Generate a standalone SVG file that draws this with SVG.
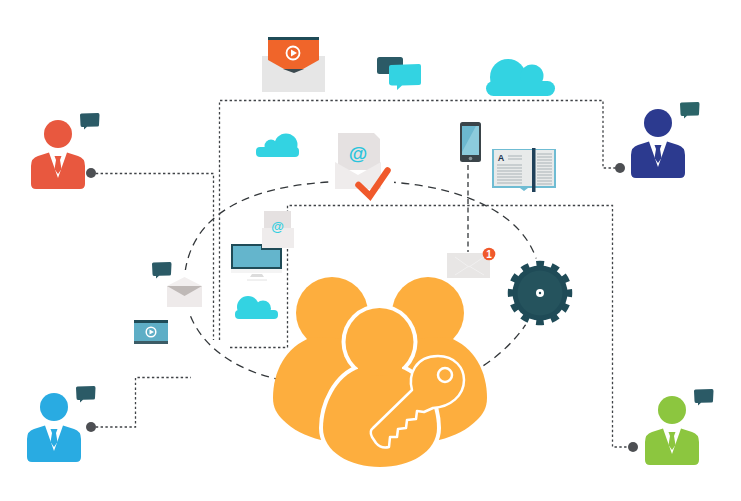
<svg xmlns="http://www.w3.org/2000/svg" width="741" height="501" viewBox="0 0 741 501">
<style>
.dot{fill:#4d4f53}
.conn{fill:none;stroke:#3f4246;stroke-width:1.3;stroke-dasharray:2.4 2.4}
.orbit{fill:none;stroke:#33373a;stroke-width:1.3;stroke-dasharray:8 5.5}
.cyan{fill:#33d3e2}
.org{fill:#fdae3e}
.lbl{font-family:"Liberation Sans",Arial,sans-serif;font-weight:700}
</style>
<defs>
<g id="person">
<circle cx="27" cy="14" r="14"/>
<path d="M7 36 L18 32.500 L27 58 L36 32.500 L47 36 Q54 38 54 46 L54 64 Q54 69 49 69 L5 69 Q0 69 0 64 L0 46 Q0 38 7 36Z"/>
<path d="M23.500 36 h7 l-1.500 4 l1.500 9 l-3.500 5 l-3.500 -5 l1.500 -9Z"/>
</g>
<g id="bubble">
<path d="M1.500 0.500 L18 0 Q19.500 0 19.500 2 L19 12 Q19 13.500 17.500 13.500 L7 13.800 L4 16.500 L4 14 L2 14 Q0.500 14 0.500 12 L0 2 Q0 0.500 1.500 0.500Z"/>
</g>
</defs>
<rect width="741" height="501" fill="#fff"/>

<g id="connectors">
<path class="orbit" d="M282 380C240 372 186 345 184 285C186 210 255 181 361 181C460 181 541 215 540 285C540 315 510 350 478 369"/>
<path class="conn" d="M91 173.500H213.500V340"/>
<path class="conn" d="M219.500 340V100.500H603V168H620"/>
<path class="conn" d="M230 347.500H287.500V205.500H612.500V447H633"/>
<path class="conn" d="M91 427H135.500V377.500H191"/>
<path d="M468 165V252" fill="none" stroke="#33373a" stroke-width="1.300" stroke-dasharray="5 3.500"/>
<circle class="dot" cx="91" cy="173" r="5"/>
<circle class="dot" cx="620" cy="168" r="5"/>
<circle class="dot" cx="91" cy="427" r="5"/>
<circle class="dot" cx="633" cy="447" r="5"/>
</g>

<g id="person-red" fill="#e8583f">
<use href="#person" x="31" y="120"/>
<use href="#bubble" x="80" y="113" fill="#2b5a66"/>
</g>
<g id="person-navy" fill="#2c3a8f">
<use href="#person" x="631" y="109"/>
<use href="#bubble" x="680" y="102" fill="#2b6468"/>
</g>
<g id="person-blue" fill="#29abe2">
<use href="#person" x="27" y="393"/>
<use href="#bubble" x="76" y="386" fill="#2b5a66"/>
</g>
<g id="person-green" fill="#8cc63f">
<use href="#person" x="645" y="396"/>
<use href="#bubble" x="694" y="389" fill="#2b5a66"/>
</g>

<g id="video-mail">
<rect x="262" y="56" width="63" height="36" fill="#e6e6e6"/>
<path d="M283 69H304L294 73Z" fill="#3c4a50"/>
<rect x="268" y="37" width="51" height="3.500" fill="#1f4b57"/>
<path d="M268 40H319V60L303 69H284L268 60Z" fill="#f0652a"/>
<circle cx="293" cy="53" r="6.500" fill="none" stroke="#fff" stroke-width="1.800"/>
<path d="M291 49.500L297 53L291 56.500Z" fill="#fff"/>
</g>

<g id="chat">
<rect x="377" y="57" width="26" height="17" rx="2.500" fill="#2b5a66"/>
<path d="M391 65L419 64Q421 64 421 66L421 83Q421 85 419 85L402 85.500L397 90L397 85.500L392 85.500Q389 85 389 83L389 67Q389 65 391 65Z" class="cyan"/>
</g>

<g id="cloud-large" class="cyan">
<circle cx="508" cy="77" r="18"/>
<circle cx="532" cy="76" r="11.500"/>
<rect x="486" y="81" width="69" height="15" rx="7.500"/>
</g>

<g id="cloud-small" class="cyan">
<circle cx="286" cy="145" r="11.500"/>
<circle cx="271" cy="146" r="6.500"/>
<rect x="256" y="147" width="43" height="10" rx="4"/>
</g>

<g id="mail-check">
<rect x="330" y="176" width="64" height="22" fill="#fff"/>
<path d="M338 133H374L380 139V170H338Z" fill="#e5e1e1"/>
<path d="M335 162L358 175L381 162V189H335Z" fill="#efecec"/>
<text class="lbl" x="358" y="160" font-size="19" text-anchor="middle" fill="#29c4dc">@</text>
<path d="M358.500 185L370 196L387.500 170.500" fill="none" stroke="#f0592b" stroke-width="6.500" stroke-linecap="round"/>
</g>

<g id="phone">
<rect x="460" y="122" width="21" height="40" rx="2.500" fill="#3a4449"/>
<rect x="462" y="126" width="17" height="29" fill="#8ccbdc"/>
<path d="M462 126H476L462 152Z" fill="#6cb8cf"/>
<circle cx="470.500" cy="158.500" r="1.800" fill="#8a9599"/>
</g>

<g id="book">
<path d="M492 149H556V188H528L524 191L520 188H492Z" fill="#6fbcd3"/>
<rect x="494" y="150" width="60" height="36" fill="#e8eaea"/>
<path d="M508 156H522M508 159H522M497 165H522M497 168H522M497 171H522M497 174H522M497 177H522M497 180H522M497 183H522M537 154H552M537 157H552M537 160H552M537 163H552M537 166H552M537 169H552M537 172H552M537 175H552M537 178H552M537 181H552M537 184H552" stroke="#a9b2b6" stroke-width="1"/>
<rect x="532" y="148" width="3.500" height="44" fill="#1f4059"/>
<text class="lbl" x="501" y="161" font-size="9" text-anchor="middle" fill="#1f3550">A</text>
</g>

<g id="mail-at">
<rect x="264" y="211" width="27" height="24" fill="#e5e1e1"/>
<rect x="262" y="228" width="32" height="20" fill="#efecec"/>
<text class="lbl" x="277.500" y="230.500" font-size="13" text-anchor="middle" fill="#33cfe0">@</text>
</g>

<g id="monitor">
<path d="M231 244H262V248H282V269H231Z" fill="#1f4b57"/>
<path d="M233 246H261V250H280V267H233Z" fill="#64b5cc"/>
<path d="M231 269H282V273H231Z" fill="#f4f4f4"/>
<path d="M252 274H262L264 277H250Z" fill="#dcdcdc"/>
<path d="M247 280H267" stroke="#e2e2e2" stroke-width="1"/>
</g>

<g id="cloud-mid" class="cyan">
<circle cx="248" cy="307" r="11"/>
<circle cx="263" cy="308.500" r="8"/>
<rect x="235" y="310" width="43" height="9" rx="4"/>
</g>

<g id="mail-left">
<rect x="160" y="270" width="46" height="42" fill="#fff"/>
<rect x="167" y="286" width="35" height="21" fill="#eeeaea"/>
<path d="M167 286L184.500 277L202 286Z" fill="#f2efef"/>
<path d="M167 286H202L184.500 296Z" fill="#bfb9b7"/>
</g>

<g id="chat-left">
<use href="#bubble" x="152" y="262" fill="#2b5a66"/>
</g>

<g id="video-left">
<rect x="134" y="320" width="34" height="24" fill="#5eaec6"/>
<rect x="134" y="320" width="34" height="3" fill="#1f4b57"/>
<rect x="134" y="341" width="34" height="3" fill="#3c5c66"/>
<circle cx="151" cy="332" r="4.800" fill="none" stroke="#fff" stroke-width="1.500"/>
<path d="M149.500 329.500L154 332L149.500 334.500Z" fill="#fff"/>
</g>

<g id="mail-right">
<rect x="447" y="253" width="43" height="25" fill="#e8e6e5"/>
<path d="M455 257L469 267L484 257M455 275L469 266L484 275" fill="none" stroke="#f1f0f0" stroke-width="1"/>
<circle cx="489" cy="254" r="6.300" fill="#f0592b"/>
<text class="lbl" x="489" y="258" font-size="10" text-anchor="middle" fill="#fff">1</text>
</g>

<g id="gear">
<circle cx="540" cy="293" r="35" fill="#fff"/>
<circle cx="540" cy="293" r="27.500" fill="#1f4b57"/>
<circle cx="540" cy="293" r="29.500" fill="none" stroke="#1f4b57" stroke-width="5.500" stroke-dasharray="7.720 7.720" stroke-dashoffset="3.860"/>
<circle cx="540" cy="293" r="22.500" fill="#25535d"/>
<circle cx="540" cy="293" r="4" fill="#fff"/>
<circle cx="540" cy="293" r="1.200" fill="#1f4b57"/>
</g>

<g id="team-key">
<circle class="org" cx="332" cy="313" r="36"/>
<circle class="org" cx="428" cy="313" r="36"/>
<path class="org" d="M312 337C285 347 273 372 273 398C273 408 277 414 283 420C293 430 305 436 321 440L380 420L380 340Z"/>
<path class="org" d="M448 337C475 347 487 372 487 398C487 408 483 414 477 420C467 430 455 436 439 440L380 420L380 340Z"/>
<path d="M360 368C336 376 323 405 323 428C323 452 350 467 380 467C410 467 437 452 437 428C437 405 424 376 400 368Z" fill="#fff" stroke="#fff" stroke-width="8"/>
<circle cx="379.500" cy="342" r="38" fill="#fff"/>
<path class="org" d="M360 368C336 376 323 405 323 428C323 452 350 467 380 467C410 467 437 452 437 428C437 405 424 376 400 368Z"/>
<circle class="org" cx="379.500" cy="342" r="34"/>
<rect class="org" x="358" y="360" width="44" height="15"/>
<path class="org" d="M412 390C408 375 415 356 438 356C455 356 464 368 464 380C464 396 450 407 433 408L424 412L417 411L416 419L407 420L406 428L398 429L397 437L390 437L389 447Q381 449 376 443L372 437Q369 431 373 428Z" stroke="#fff" stroke-width="2.500" stroke-linejoin="round"/>
<circle class="org" cx="445" cy="375" r="7" stroke="#fff" stroke-width="2.500"/>
</g>
</svg>
